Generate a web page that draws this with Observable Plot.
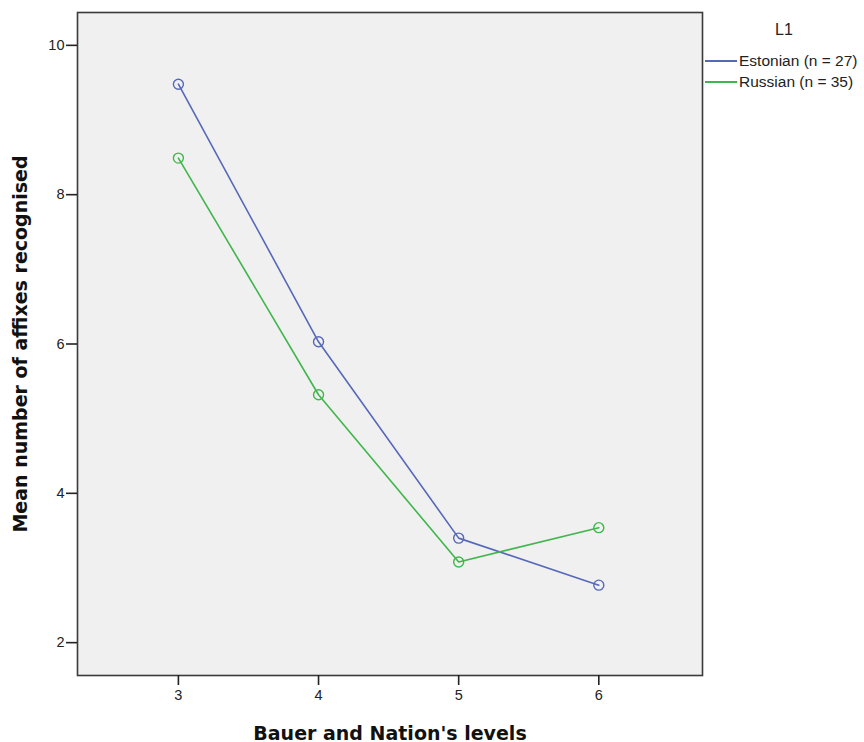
<!DOCTYPE html>
<html>
<head>
<meta charset="utf-8">
<script src="https://cdn.jsdelivr.net/npm/d3@7"></script>
<script src="https://cdn.jsdelivr.net/npm/@observablehq/plot@0.6"></script>
<style>
  html, body { margin: 0; padding: 0; background: #fff; }
  #wrap { position: relative; width: 864px; height: 742px; font-family: "Liberation Sans", Arial, sans-serif; overflow: hidden; }
  #legend { position: absolute; left: 705px; top: 20px; font-size: 15.5px; color: #222; white-space: nowrap; }
  #legend .title { font-size: 16px; margin-left: 70px; margin-bottom: 10px; line-height: 20px; }
  #legend .row { display: flex; align-items: center; height: 21px; }
  #legend .sw { width: 32px; height: 2px; margin-right: 2px; }
  #wrap svg text { font-size: 14.5px !important; fill: #222; }
  #wrap svg g[aria-label="y-axis label"] text, #wrap svg g[aria-label="x-axis label"] text { font-family: "DejaVu Sans", sans-serif; font-weight: bold; font-size: 19px !important; fill: #111; }
</style>
</head>
<body>
<div id="wrap"></div>
<script>
const levels = [3, 4, 5, 6];
const series = ["Estonian (n = 27)", "Russian (n = 35)"];
const estonian = [9.48, 6.03, 3.40, 2.77];
const russian = [8.49, 5.32, 3.08, 3.54];
const colors = ["#5668b8", "#3fb64c"];
const yTicks = [2, 4, 6, 8, 10];

const data = [];
levels.forEach((l, i) => data.push({level: l, value: estonian[i], group: series[0]}));
levels.forEach((l, i) => data.push({level: l, value: russian[i], group: series[1]}));

const chart = Plot.plot({
  width: 864,
  height: 742,
  marginLeft: 77,
  marginRight: 162,
  marginTop: 12,
  marginBottom: 67,
  style: {fontFamily: "Liberation Sans, Arial, sans-serif", fontSize: "14.5px", color: "#222", background: "#fff"},
  x: {domain: [2.28, 6.74]},
  y: {domain: [1.56, 10.44]},
  color: {domain: series, range: colors},
  marks: [
    Plot.frame({fill: "#f0f0f0", stroke: "none"}),
    Plot.line(data, {x: "level", y: "value", z: "group", stroke: "group", strokeWidth: 1.6}),
    Plot.dot(data, {x: "level", y: "value", stroke: "group", r: 5, strokeWidth: 1.4, fill: "none"}),
    Plot.frame({stroke: "#3a3a3a", strokeWidth: 1.6}),
    Plot.axisY({ticks: yTicks, tickSize: 11, tickPadding: 2, fontSize: 14.5, label: "Mean number of affixes recognised", labelAnchor: "center", labelArrow: "none", labelOffset: 64, stroke: "#222", strokeWidth: 1.6}),
    Plot.axisX({ticks: levels, tickFormat: "d", tickSize: 10, tickPadding: 4, fontSize: 14.5, label: "Bauer and Nation's levels", labelAnchor: "center", labelArrow: "none", labelOffset: 64, stroke: "#222", strokeWidth: 1.6})
  ]
});
document.getElementById("wrap").appendChild(chart);

const legend = document.createElement("div");
legend.id = "legend";
const t = document.createElement("div");
t.className = "title";
t.textContent = "L1";
legend.appendChild(t);
series.forEach((s, i) => {
  const row = document.createElement("div");
  row.className = "row";
  const sw = document.createElement("div");
  sw.className = "sw";
  sw.style.background = colors[i];
  const lab = document.createElement("span");
  lab.textContent = s;
  row.appendChild(sw);
  row.appendChild(lab);
  legend.appendChild(row);
});
document.getElementById("wrap").appendChild(legend);
</script>
</body>
</html>
